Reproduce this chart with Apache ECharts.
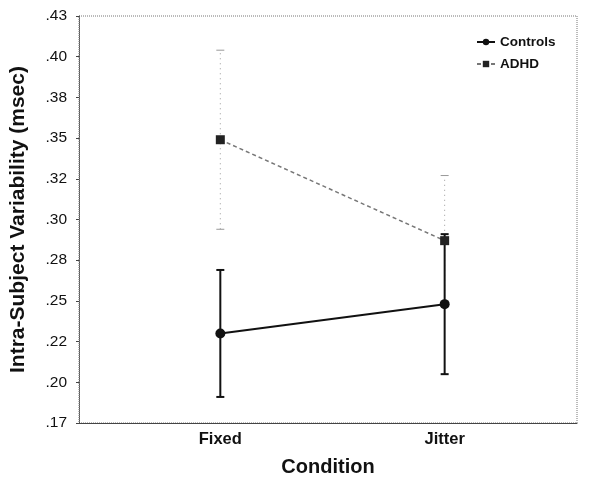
<!DOCTYPE html>
<html><head><meta charset="utf-8">
<script src="https://cdn.jsdelivr.net/npm/echarts@6/dist/echarts.min.js"></script>
<style>html,body{margin:0;padding:0;background:#fff}#c{width:602px;height:484px}</style>
</head><body><div id="c"></div>
<script>
var categories = ['Fixed', 'Jitter'];
var categoryPos = [1, 2];
var controlsMean = [0.230, 0.248];
var controlsErr = [0.039, 0.043];
var adhdMean = [0.349, 0.287];
var adhdErr = [0.055, 0.040];
var yTickLabels = ['.17', '.20', '.22', '.25', '.28', '.30', '.32', '.35', '.38', '.40', '.43'];

var chart = echarts.init(document.getElementById('c'));
function errData(means, errs) {
  return categoryPos.map(function (x, i) { return [x, means[i] - errs[i], means[i] + errs[i]]; });
}
function errRender(color, dash, width) {
  return function (params, api) {
    var lo = api.coord([api.value(0), api.value(1)]);
    var hi = api.coord([api.value(0), api.value(2)]);
    var cw = 4;
    var st = { stroke: color, lineWidth: width, lineDash: dash };
    return { type: 'group', children: [
      { type: 'line', shape: { x1: lo[0], y1: lo[1], x2: hi[0], y2: hi[1] }, style: st },
      { type: 'line', shape: { x1: lo[0] - cw, y1: lo[1], x2: lo[0] + cw, y2: lo[1] }, style: { stroke: color, lineWidth: width } },
      { type: 'line', shape: { x1: hi[0] - cw, y1: hi[1], x2: hi[0] + cw, y2: hi[1] }, style: { stroke: color, lineWidth: width } }
    ]};
  };
}
var font = 'Liberation Sans, Arial, sans-serif';
chart.setOption({
  animation: false,
  backgroundColor: '#fff',
  grid: { left: 79, right: 25, top: 16, bottom: 61, show: true, borderColor: '#777', borderWidth: 1, borderType: 'dotted' },
  legend: {
    top: 30, left: 471, orient: 'vertical', itemGap: 8, itemWidth: 18, itemHeight: 8,
    textStyle: { fontFamily: font, fontWeight: 'bold', fontSize: 13.5, color: '#111' },
    data: ['Controls', 'ADHD']
  },
  xAxis: {
    type: 'value', min: 0.37, max: 2.59,
    name: 'Condition', nameLocation: 'middle', nameGap: 34,
    nameTextStyle: { fontFamily: font, fontWeight: 'bold', fontSize: 20, color: '#111' },
    splitLine: { show: false },
    axisLine: { show: true, lineStyle: { color: '#444', width: 1 } },
    axisTick: { show: false },
    axisLabel: { customValues: categoryPos, margin: 8, fontFamily: font, fontWeight: 'bold', fontSize: 16.5, color: '#111',
      formatter: function (v) { var i = categoryPos.indexOf(v); return i >= 0 ? categories[i] : ''; } }
  },
  yAxis: {
    type: 'value', min: 0.175, max: 0.425, interval: 0.025,
    name: 'Intra-Subject Variability (msec)', nameLocation: 'middle', nameGap: 50,
    nameTextStyle: { fontFamily: font, fontWeight: 'bold', fontSize: 21, color: '#111' },
    splitLine: { show: false },
    axisLine: { show: true, lineStyle: { color: '#555', width: 1, type: 'dotted' } },
    axisTick: { show: true, inside: false, length: 3, lineStyle: { color: '#444' } },
    axisLabel: { margin: 12, fontFamily: font, fontSize: 15.5, color: '#111',
      formatter: function (v) { return yTickLabels[Math.round((v - 0.175) / 0.025)]; } }
  },
  series: [
    { name: 'Controls', type: 'line', data: categoryPos.map(function (x, i) { return [x, controlsMean[i]]; }),
      symbol: 'circle', symbolSize: 10, itemStyle: { color: '#111' }, lineStyle: { color: '#111', width: 2 }, z: 3 },
    { name: 'ADHD', type: 'line', data: categoryPos.map(function (x, i) { return [x, adhdMean[i]]; }),
      symbol: 'rect', symbolSize: 9, itemStyle: { color: '#222' }, lineStyle: { color: '#777', width: 1.5, type: [4, 3] }, z: 3 },
    { name: 'ADHD', type: 'custom', renderItem: errRender('#999', [1, 4], 1), data: errData(adhdMean, adhdErr), z: 1, silent: true, itemStyle: { color: '#222' } },
    { name: 'Controls', type: 'custom', renderItem: errRender('#111', null, 2), data: errData(controlsMean, controlsErr), z: 1, silent: true, itemStyle: { color: '#111' } }
  ]
});
</script></body></html>
